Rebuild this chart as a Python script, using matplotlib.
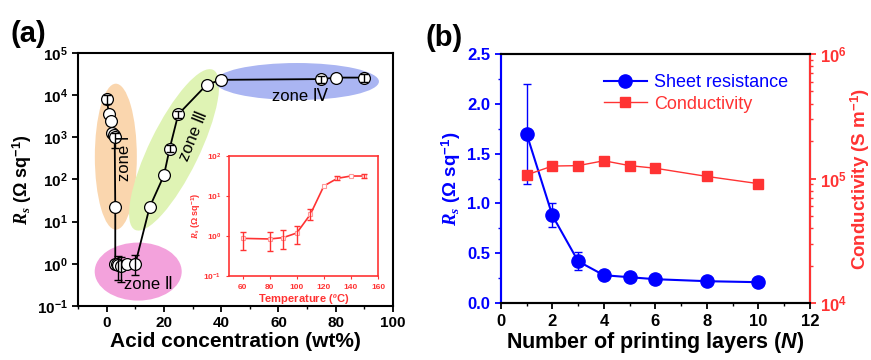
import matplotlib
matplotlib.use('Agg')
import matplotlib.pyplot as plt
import numpy as np
from matplotlib.patches import Ellipse
from matplotlib.transforms import ScaledTranslation
from matplotlib.ticker import MultipleLocator, LogLocator, NullFormatter

plt.rcParams['font.family'] = ['Liberation Sans', 'DejaVu Sans']
plt.rcParams['font.weight'] = 'bold'
plt.rcParams['axes.labelweight'] = 'bold'
plt.rcParams['mathtext.fontset'] = 'custom'
plt.rcParams['mathtext.rm'] = 'Liberation Sans:bold'
plt.rcParams['mathtext.it'] = 'Liberation Serif:italic:bold'
plt.rcParams['mathtext.bf'] = 'Liberation Sans:bold'
plt.rcParams['mathtext.sf'] = 'Liberation Sans:italic:bold'

# ---- panel (a): sheet resistance vs acid concentration
acid = [0, 0.8, 1.4, 2.0, 2.4, 2.8, 3.0, 3.0, 3.5, 4.0, 5.0, 7.0, 10, 15, 20, 22, 25, 35, 40, 75, 80, 90]
rs_a = [8000, 3600, 2400, 1250, 1150, 1000, 22, 1.0, 1.0, 0.95, 0.9, 0.97, 1.0, 22, 125, 540, 3500, 17800, 23000, 24000, 26000, 26000]
rs_a_lo = [6300, 3600, 2400, 1250, 1150, 550, 22, 1.0, 1.0, 0.42, 0.38, 0.97, 0.55, 22, 125, 450, 2800, 17800, 23000, 19500, 26000, 21000]
rs_a_hi = [10300, 3600, 2400, 1250, 1150, 1250, 22, 1.0, 1.0, 1.5, 1.45, 0.97, 1.6, 22, 125, 640, 4300, 17800, 23000, 29000, 26000, 31000]

# inset: sheet resistance vs temperature
temp = [60, 80, 90, 100, 110, 120, 130, 140, 150]
rs_t = [0.88, 0.85, 0.92, 1.2, 3.5, 18, 28, 32, 32]
rs_t_lo = [0.46, 0.42, 0.47, 0.65, 2.5, 18, 25, 32, 28]
rs_t_hi = [1.3, 1.25, 1.4, 1.8, 4.8, 18, 32, 32, 36]

# ---- panel (b): printing layers
layers = [1, 2, 3, 4, 5, 6, 8, 10]
rs_b = [1.70, 0.88, 0.42, 0.28, 0.26, 0.24, 0.22, 0.21]
rs_b_err = [0.50, 0.12, 0.09, 0.03, 0.03, 0.02, 0.02, 0.02]
cond = [1.07e5, 1.26e5, 1.27e5, 1.39e5, 1.27e5, 1.21e5, 1.04e5, 0.91e5]

# zones: label, ellipse centre (axes fraction), width/height px, angle, text rotation, colour, text pos
zones = [
    ('zone Ⅰ', 0.120, 0.590, 42, 146, 0, 90, '#fad6ae', (0.149, 0.585)),
    ('zone Ⅱ', 0.191, 0.136, 87, 58, 0, 0, '#f3a2dc', (0.225, 0.083)),
    ('zone Ⅲ', 0.305, 0.617, 178, 50, 64, 68, '#dff3b4', (0.368, 0.670)),
    ('zone Ⅳ', 0.695, 0.887, 164, 37, 0, 0, '#aab5f2', (0.705, 0.827)),
]

blue = '#0000ff'
red = '#ff3333'

fig = plt.figure(figsize=(8.71, 3.6), dpi=100)
axa = fig.add_axes([0.0896, 0.15, 0.3616, 0.703])
axb = fig.add_axes([0.575, 0.158, 0.355, 0.692])

for ax, ls in ((axa, 11), (axb, 12)):
    for s in ax.spines.values():
        s.set_linewidth(1.5)
    ax.tick_params(which='major', direction='out', length=4, width=1.3, labelsize=ls)
    ax.tick_params(which='minor', direction='out', length=2.5, width=1.0)

# zone ellipses
for name, cx, cy, w, h, ang, rot, col, tpos in zones:
    tr = fig.dpi_scale_trans + ScaledTranslation(cx, cy, axa.transAxes)
    axa.add_patch(Ellipse((0, 0), w / 100, h / 100, angle=ang, transform=tr,
                          facecolor=col, edgecolor='none', zorder=0))
    axa.text(tpos[0], tpos[1], name, transform=axa.transAxes, rotation=rot,
             ha='center', va='center', fontsize=12, fontweight='normal', zorder=5)

acid_a = np.array(acid)
rs_arr = np.array(rs_a)
lo = np.array(rs_a_lo)
hi = np.array(rs_a_hi)
axa.plot(acid_a, rs_arr, '-', color='black', lw=1.3, zorder=2)
axa.plot(acid_a, rs_arr, 'o', ms=8.5, mfc='white', mec='black', mew=0.9, zorder=3)
m = hi > lo
axa.errorbar(acid_a[m], rs_arr[m], yerr=[rs_arr[m] - lo[m], hi[m] - rs_arr[m]], fmt='none',
             ecolor='black', elinewidth=1.0, capsize=3, capthick=1.0, zorder=4)
axa.set_yscale('log')
axa.set_ylim(0.1, 1e5)
axa.set_xlim(-10, 100)
axa.xaxis.set_major_locator(MultipleLocator(20))
axa.xaxis.set_minor_locator(MultipleLocator(10))
axa.yaxis.set_minor_locator(LogLocator(subs=[]))
axa.set_xlabel('Acid concentration (wt%)', fontsize=15, labelpad=1)
axa.set_ylabel(r'$R_s$ ($\Omega$ sq$^{-1}$)', fontsize=13, labelpad=2)

# inset
ins = fig.add_axes([0.263, 0.233, 0.171, 0.333])
t = np.array(temp)
rt = np.array(rs_t)
tlo = np.array(rs_t_lo)
thi = np.array(rs_t_hi)
ins.plot(t, rt, '-', color=red, lw=1.2, marker='s', ms=3.5, mfc='white', mec='#ff9a9a', mew=0.8)
mi = thi > tlo
ins.errorbar(t[mi], rt[mi], yerr=[rt[mi] - tlo[mi], thi[mi] - rt[mi]], fmt='none',
             ecolor=red, elinewidth=1.0, capsize=2.5, capthick=1.0)
ins.set_yscale('log')
ins.set_ylim(0.1, 100)
ins.set_xlim(50, 160)
ins.xaxis.set_major_locator(MultipleLocator(20))
ins.yaxis.set_minor_locator(LogLocator(subs=[]))
for s in ins.spines.values():
    s.set_color(red)
    s.set_linewidth(1.2)
ins.tick_params(colors=red, labelsize=6, length=2, width=0.8, direction='out')
ins.set_xlabel('Temperature ($^{o}$C)', fontsize=8, color=red, labelpad=1)
ins.set_ylabel(r'$R_s$ ($\Omega$ sq$^{-1}$)', fontsize=6.5, color=red, labelpad=1)

# panel (b)
lb, = axb.plot(layers, rs_b, '-o', color=blue, lw=1.5, ms=9.5, zorder=3, label='Sheet resistance')
axb.errorbar(layers, rs_b, yerr=rs_b_err, fmt='none', ecolor=blue, elinewidth=1.0,
             capsize=3, capthick=1.0, zorder=3)
axb.set_xlim(0, 12)
axb.set_ylim(0, 2.5)
axb.xaxis.set_major_locator(MultipleLocator(2))
axb.xaxis.set_minor_locator(MultipleLocator(1))
axb.yaxis.set_major_locator(MultipleLocator(0.5))
axb.yaxis.set_minor_locator(MultipleLocator(0.25))
axb.spines['left'].set_color(blue)
axb.tick_params(axis='y', which='both', colors=blue)
axb.set_xlabel(r'Number of printing layers ($\mathsf{N}$)', fontsize=15.5, labelpad=1)
axb.set_ylabel(r'$R_s$ ($\Omega$ sq$^{-1}$)', fontsize=13.5, color=blue, labelpad=3)

ax2 = axb.twinx()
lc, = ax2.plot(layers, cond, '-s', color=red, lw=1.0, ms=7, label='Conductivity')
ax2.set_yscale('log')
ax2.set_ylim(1e4, 1e6)
for s in ax2.spines.values():
    s.set_linewidth(1.5)
ax2.spines['right'].set_color(red)
ax2.spines['left'].set_color(blue)
ax2.tick_params(axis='y', which='major', colors=red, labelsize=12, length=4, width=1.3)
ax2.tick_params(axis='y', which='minor', colors=red, length=2.5, width=1.0)
ax2.yaxis.set_minor_formatter(NullFormatter())
ax2.set_ylabel('Conductivity (S m$^{-1}$)', fontsize=13.5, color=red, labelpad=1)

leg = axb.legend(handles=[lb, lc], loc='upper left', bbox_to_anchor=(0.28, 0.985), frameon=False,
                 prop={'size': 13, 'weight': 'normal'}, handlelength=2.4, handletextpad=0.4,
                 labelspacing=0.25)
for txt, col in zip(leg.get_texts(), [blue, red]):
    txt.set_color(col)

fig.text(0.012, 0.905, '(a)', fontsize=21, fontweight='bold', va='center')
fig.text(0.488, 0.895, '(b)', fontsize=21, fontweight='bold', va='center')

fig.savefig('out.png', dpi=100)
